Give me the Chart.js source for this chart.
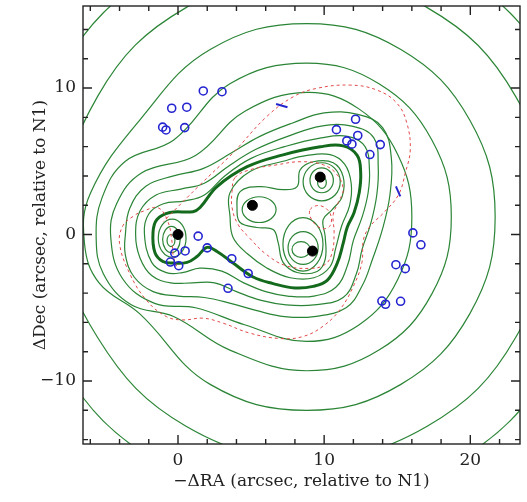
<!DOCTYPE html>
<html>
<head>
<meta charset="utf-8">
<script src="https://cdn.jsdelivr.net/npm/chart.js@4"></script>
<style>
  html, body { margin: 0; background: #fff; }
  #wrap { width: 527px; height: 502px; }
</style>
</head>
<body>
<div id="wrap"><canvas id="lensChart"></canvas></div>
<script>
// axis ranges and labelled ticks
const xRange = [-6.5, 23.4];
const yRange = [-14.3, 15.6];
const xTickLabels = [0, 10, 20];
const yTickLabels = [-10, 0, 10];

// lens galaxies (filled) and lensed images (open circles)
const lenses = [[0, 0], [5.09, 1.99], [9.73, 3.92], [9.2, -1.13]];
const images = [
  [-1.05, 7.33], [-0.82, 7.14], [-0.43, 8.62], [0.6, 8.69], [0.46, 7.30], [1.73, 9.8], [3.01, 9.75],
  [10.84, 7.16], [12.15, 7.87], [11.55, 6.39], [11.9, 6.17], [12.3, 6.76], [13.84, 6.14], [13.13, 5.46],
  [16.07, 0.11], [16.62, -0.70], [14.91, -2.06], [15.55, -2.33], [13.95, -4.54], [14.2, -4.76], [15.23, -4.56],
  [1.38, -0.11], [0.49, -1.12], [-0.22, -1.27], [-0.52, -1.88], [0.05, -2.13], [2.0, -0.91], [3.68, -1.65],
  [4.8, -2.66], [3.42, -3.67]
];
const arcTickA = [[6.71, 8.91], [7.49, 8.69]];
const arcTickB = [[14.91, 3.29], [15.21, 2.6]];

// critical contour (thick); closed loops are listed without repeating the first point
const thickContour = [
  [-1.71, 0.14], [-1.44, 1.02], [-0.55, 1.50], [1.03, 1.56], [1.51, 1.84], [2.67, 3.27], [4.73, 4.63],
  [7.19, 5.44], [9.73, 5.99], [11.30, 6.05], [12.26, 5.4], [12.5, 4.22], [12.4, 2.86], [12.05, 1.5],
  [11.58, 0.5], [11.3, -0.61], [10.89, -1.97], [10.21, -3.13], [9.25, -3.54], [8.0, -3.65], [6.51, -3.35],
  [5.14, -2.9], [3.77, -1.95], [2.67, -1.16], [1.99, -0.88], [1.30, -1.50], [0.62, -1.90], [-0.34, -1.95],
  [-1.03, -1.84], [-1.58, -1.22]
];

// inner contours
const leftLoop1 = [[-0.48, 0.0], [-0.29, -0.12], [-0.21, -0.41], [-0.29, -0.70], [-0.48, -0.82], [-0.67, -0.70], [-0.75, -0.41], [-0.67, -0.12]];
const leftLoop2 = [[-0.45, 0.56], [-0.03, 0.30], [0.15, -0.34], [-0.03, -0.98], [-0.45, -1.24], [-0.87, -0.98], [-1.05, -0.34], [-0.87, 0.30]];
const leftLoop3 = [[-0.4, 1.05], [0.27, 0.67], [0.55, -0.25], [0.27, -1.17], [-0.4, -1.55], [-1.07, -1.17], [-1.35, -0.25], [-1.07, 0.67]];
const midLoop = [[5.55, 2.58], [6.37, 2.32], [6.71, 1.7], [6.37, 1.08], [5.55, 0.82], [4.73, 1.08], [4.39, 1.7], [4.73, 2.32]];
const upLoop1 = [[9.85, 3.95], [10.06, 3.83], [10.15, 3.55], [10.06, 3.27], [9.85, 3.15], [9.64, 3.27], [9.55, 3.55], [9.64, 3.83]];
const upLoop2 = [[9.83, 4.55], [10.4, 4.3], [10.63, 3.7], [10.4, 3.1], [9.83, 2.85], [9.26, 3.1], [9.03, 3.7], [9.26, 4.3]];
const upLoop3 = [[9.83, 4.9], [10.73, 4.52], [11.1, 3.6], [10.73, 2.68], [9.83, 2.3], [8.93, 2.68], [8.56, 3.6], [8.93, 4.52]];
const lowLoop1 = [[8.42, -0.48], [8.86, -0.64], [9.04, -1.02], [8.86, -1.4], [8.42, -1.56], [7.98, -1.4], [7.8, -1.02], [7.98, -0.64]];
const lowLoop2 = [[8.56, 0.2], [9.29, -0.13], [9.59, -0.92], [9.29, -1.71], [8.56, -2.04], [7.83, -1.71], [7.53, -0.92], [7.83, -0.13]];
const lowLoop3 = [[8.55, 1.16], [9.52, 0.62], [9.92, -0.67], [9.52, -1.96], [8.55, -2.5], [7.58, -1.96], [7.18, -0.67], [7.58, 0.62]];
const triLobe = [
  [4.04, 1.70], [4.25, 2.93], [5.62, 3.27], [7.19, 3.06], [8.15, 3.27], [8.36, 4.42], [9.25, 4.97], [10.62, 4.90],
  [11.30, 3.95], [11.23, 2.59], [10.55, 1.70], [9.93, 1.02], [10.07, -0.14], [10.07, -1.70], [9.52, -2.52],
  [8.15, -2.59], [7.19, -1.90], [6.85, -0.54], [6.51, 0.34], [5.41, 0.48], [4.25, 0.82]
];
const triOuter = [
  [3.56, 2.86], [4.93, 4.3], [7.19, 5.0], [8.84, 5.4], [10.41, 5.45], [11.4, 4.8], [11.85, 3.5], [11.75, 2.0],
  [11.2, 0.6], [10.8, -0.9], [10.4, -2.2], [9.3, -2.95], [7.67, -2.95], [6.10, -2.3], [4.73, -1.3], [3.77, -0.2],
  [3.56, 1.22]
];

// outer contours
const outer1 = [
  [-2.3, 0.1], [-2.0, 1.4], [-1.0, 2.1], [0.5, 2.3], [1.8, 2.7], [3.2, 4.0], [5.0, 5.2], [7.3, 6.0], [9.8, 6.6],
  [11.6, 6.7], [12.8, 6.0], [13.1, 4.4], [13.0, 2.8], [12.6, 1.2], [12.0, -0.4], [11.6, -2.1], [10.8, -3.6],
  [9.3, -4.2], [7.5, -4.2], [6.0, -3.9], [4.5, -3.3], [3.0, -2.5], [1.5, -2.3], [0.3, -2.6], [-0.8, -2.6],
  [-1.8, -1.9]
];
const outer2 = [
  [-2.9, 0.0], [-2.6, 1.6], [-1.5, 2.7], [0.2, 3.1], [1.8, 3.5], [3.5, 4.7], [5.3, 5.8], [7.5, 6.7], [9.8, 7.4],
  [11.9, 7.4], [13.4, 6.6], [13.7, 4.6], [13.6, 2.7], [13.2, 0.8], [12.6, -1.0], [12.2, -2.7], [11.3, -4.3],
  [9.3, -4.8], [7.4, -4.8], [5.7, -4.5], [4.0, -3.9], [2.5, -3.3], [1.0, -3.3], [-0.5, -3.3], [-1.8, -2.8],
  [-2.6, -1.6]
];
const outer3 = [
  [-3.6, 0.0], [-3.3, 1.8], [-2.2, 3.3], [-0.3, 4.0], [1.7, 4.5], [3.7, 5.6], [5.6, 6.7], [7.8, 7.6], [10.0, 8.3],
  [12.3, 8.2], [14.0, 7.3], [14.6, 5.2], [14.5, 2.7], [14.0, 0.4], [13.3, -1.7], [12.6, -3.5], [11.5, -5.0],
  [9.3, -5.6], [7.3, -5.6], [5.4, -5.2], [3.6, -4.7], [1.8, -4.3], [0.0, -4.2], [-1.7, -3.9], [-3.0, -2.9],
  [-3.6, -1.4]
];
const outer4 = [
  [8.8, 9.7], [12.4, 8.56], [15.04, 5.45], [16.0, 1.2], [15.04, -3.05], [12.4, -6.16], [8.8, -7.3], [4.55, -6.16],
  [1.2, -5.0], [-1.6, -4.7], [-3.8, -3.0], [-4.6, -0.2], [-4.2, 2.1], [-2.5, 4.2], [1.2, 5.4], [4.55, 8.4]
];
const outer5 = [
  [8.8, 11.7], [13.75, 10.29], [17.37, 6.45], [18.7, 1.2], [17.37, -4.05], [13.75, -7.89], [8.8, -9.3], [3.55, -7.89],
  [-0.3, -5.6], [-3.2, -4.8], [-5.1, -2.7], [-5.6, -0.2], [-5.2, 2.5], [-3.6, 5.0], [-0.29, 6.45], [3.55, 10.29]
];
const outer6 = [
  [8.8, 14.4], [15.25, 12.63], [19.97, 7.8], [21.7, 1.2], [19.97, -5.4], [15.25, -10.23], [8.8, -12.0], [2.2, -10.23],
  [-2.63, -5.4], [-5.4, -3.3], [-6.4, -0.6], [-6.0, 2.8], [-2.63, 7.8], [2.2, 12.63]
];
const outer7 = [
  [8.8, 17.7], [17.05, 15.49], [23.09, 9.45], [25.3, 1.2], [23.09, -7.05], [17.05, -13.09], [8.8, -15.3],
  [0.55, -13.09], [-5.49, -7.05], [-8.0, 0.6], [-5.49, 9.45], [0.55, 15.49]
];
const outer8 = [
  [8.8, 20.8], [18.6, 18.17], [25.77, 11.0], [28.4, 1.2], [25.77, -8.6], [18.6, -15.77], [8.8, -18.4],
  [-1.0, -15.77], [-8.17, -8.6], [-10.8, 1.2], [-8.17, 11.0], [-1.0, 18.17]
];

// caustics (red dashed)
const causticOuter = [
  [-0.1, -2.16], [-0.32, -1.48], [-0.43, -0.34], [-0.7, 0.9], [-1.35, 1.82], [-2.38, 1.59], [-3.06, 1.25],
  [-3.77, 0.6], [-4.0, -0.61], [-3.31, -2.65], [-2.17, -4.47], [-0.8, -5.6], [0.34, -5.83], [1.71, -5.71],
  [3.08, -6.05], [4.91, -6.73], [6.99, -7.1], [8.56, -6.96], [9.95, -6.24], [11.1, -5.1], [12.01, -3.51],
  [12.58, -1.93], [12.69, -0.34], [13.15, 0.57], [14.06, 1.47], [15.09, 2.72], [15.55, 4.2], [15.89, 5.78],
  [15.66, 7.6], [14.98, 8.96], [13.61, 9.86], [11.78, 10.2], [9.5, 9.98], [7.9, 9.41], [6.07, 8.05],
  [3.79, 5.6], [1.51, 3.4], [-1.0, 0.9]
];
const causticInner = [
  [3.90, 3.88], [4.93, 4.42], [6.78, 4.76], [8.36, 4.97], [9.93, 4.76], [10.89, 4.08], [11.30, 3.06],
  [10.96, 2.18], [10.62, 1.36], [10.68, 0.14], [10.55, -1.22], [10.07, -2.04], [9.04, -2.31], [7.33, -2.11],
  [5.96, -1.29], [4.93, -0.27], [4.11, 0.68], [3.70, 1.84], [3.70, 2.93]
];
const causticLoop = [[9.04, 1.70], [9.73, 1.97], [10.41, 1.43], [10.41, 0.61], [9.86, 0.41], [9.18, 0.95]];

const pts = arr => arr.map(([x, y]) => ({ x, y }));
const fmt = v => (v < 0 ? '\u2212' + Math.abs(v) : String(v));

const green = '#2b8536';
const contour = (data, width = 1.2, color = green) => ({
  type: 'line', data: pts(data), closed: true, pointRadius: 0, borderColor: color, borderWidth: width,
  tension: 0.4, fill: false, clip: 0, order: 3
});
const dashed = (data, closed) => ({
  type: 'line', data: pts(data), closed, pointRadius: 0, borderColor: '#e24a4a', borderWidth: 1,
  borderDash: [3, 3], tension: 0.4, fill: false, clip: 0, order: 2
});

// make closed contours smooth all the way round
const closeLoops = {
  id: 'closeLoops',
  afterDatasetUpdate(chart, args) {
    const ds = chart.data.datasets[args.index];
    if (ds.closed && args.meta.dataset) {
      args.meta.dataset._loop = true;
      args.meta.dataset._fullLoop = true;
    }
  }
};

const frame = {
  id: 'frame',
  afterDatasetsDraw(chart) {
    const { ctx, chartArea: a, scales: { x, y } } = chart;
    ctx.save();
    ctx.strokeStyle = '#222';
    ctx.lineWidth = 1.4;
    ctx.strokeRect(a.left, a.top, a.right - a.left, a.bottom - a.top);
    ctx.beginPath();
    x.ticks.forEach(t => {
      const p = x.getPixelForValue(t.value);
      const len = t.value % 10 === 0 ? 9 : 5;
      ctx.moveTo(p, a.bottom); ctx.lineTo(p, a.bottom - len);
      ctx.moveTo(p, a.top); ctx.lineTo(p, a.top + len);
    });
    y.ticks.forEach(t => {
      const p = y.getPixelForValue(t.value);
      const len = t.value % 10 === 0 ? 9 : 5;
      ctx.moveTo(a.left, p); ctx.lineTo(a.left + len, p);
      ctx.moveTo(a.right, p); ctx.lineTo(a.right - len, p);
    });
    ctx.stroke();
    ctx.restore();
  }
};

Chart.defaults.font.family = 'DejaVu Serif';
Chart.defaults.color = '#222';

new Chart(document.getElementById('lensChart'), {
  type: 'scatter',
  data: {
    datasets: [
      { data: pts(lenses), pointRadius: 5, backgroundColor: '#000', borderColor: '#000', order: 0 },
      { data: pts(images), pointRadius: 4, pointBorderWidth: 1.6, backgroundColor: 'rgba(0,0,0,0)', borderColor: '#2424d0', order: 0 },
      { type: 'line', data: pts(arcTickA), pointRadius: 0, borderColor: '#2424d0', borderWidth: 2, order: 0 },
      { type: 'line', data: pts(arcTickB), pointRadius: 0, borderColor: '#2424d0', borderWidth: 2, order: 0 },
      dashed(causticOuter, false),
      dashed(causticInner, true),
      dashed(causticLoop, true),
      contour(thickContour, 3, '#136a1c'),
      contour(leftLoop1), contour(leftLoop2), contour(leftLoop3),
      contour(midLoop),
      contour(upLoop1), contour(upLoop2), contour(upLoop3),
      contour(lowLoop1), contour(lowLoop2), contour(lowLoop3),
      contour(triLobe), contour(triOuter),
      contour(outer1), contour(outer2), contour(outer3), contour(outer4),
      contour(outer5), contour(outer6), contour(outer7), contour(outer8)
    ]
  },
  options: {
    responsive: true,
    maintainAspectRatio: false,
    animation: false,
    layout: { padding: { top: 5, right: 7, left: 0, bottom: 0 } },
    elements: { line: { capBezierPoints: false } },
    plugins: { legend: { display: false }, tooltip: { enabled: false } },
    scales: {
      x: {
        type: 'linear', min: xRange[0], max: xRange[1],
        grid: { display: false, drawTicks: false },
        border: { display: false },
        ticks: {
          stepSize: 2, includeBounds: false, autoSkip: false, maxRotation: 0, padding: 6,
          font: { size: 17 },
          callback: v => (xTickLabels.includes(v) ? fmt(v) : '')
        },
        title: { display: true, text: '\u2212\u0394RA (arcsec, relative to N1)', font: { size: 17 }, padding: { bottom: 10 } },
        afterFit: s => { s.height = 58; s.paddingLeft = 0; s.paddingRight = 0; }
      },
      y: {
        type: 'linear', min: yRange[0], max: yRange[1],
        grid: { display: false, drawTicks: false },
        border: { display: false },
        ticks: {
          stepSize: 2, includeBounds: false, autoSkip: false, padding: 7,
          font: { size: 17 },
          callback: v => (yTickLabels.includes(v) ? fmt(v) : '')
        },
        title: { display: true, text: '\u0394Dec (arcsec, relative to N1)', font: { size: 17 }, padding: { top: 30 } },
        afterFit: s => { s.width = 83; s.paddingTop = 0; s.paddingBottom = 0; }
      }
    }
  },
  plugins: [closeLoops, frame]
});
</script>
</body>
</html>
